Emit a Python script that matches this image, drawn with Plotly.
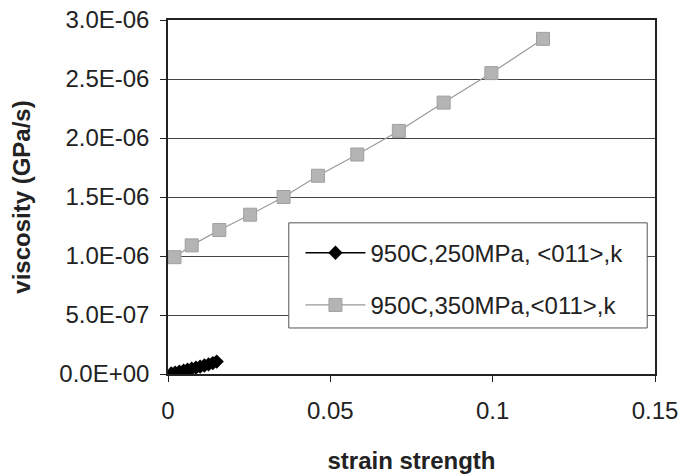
import plotly.graph_objects as go

# Series 1: 950C, 250MPa, <011>, k
x_250 = [0.0010, 0.0022, 0.0035, 0.0048, 0.0060, 0.0073, 0.0086, 0.0099, 0.0112, 0.0125, 0.0138, 0.0150]
y_250 = [0.005e-6, 0.012e-6, 0.020e-6, 0.028e-6, 0.036e-6, 0.045e-6, 0.054e-6, 0.063e-6, 0.072e-6, 0.082e-6, 0.093e-6, 0.105e-6]

# Series 2: 950C, 350MPa, <011>, k
x_350 = [0.0020, 0.0073, 0.0158, 0.0253, 0.0356, 0.0462, 0.0583, 0.0711, 0.0849, 0.0996, 0.1155]
y_350 = [0.99e-6, 1.09e-6, 1.22e-6, 1.35e-6, 1.50e-6, 1.68e-6, 1.86e-6, 2.06e-6, 2.30e-6, 2.55e-6, 2.84e-6]

name_250 = "950C,250MPa, <011>,k"
name_350 = "950C,350MPa,<011>,k"

x_ticks = [0, 0.05, 0.1, 0.15]
x_tick_labels = ["0", "0.05", "0.1", "0.15"]
y_ticks = [0, 0.5e-6, 1.0e-6, 1.5e-6, 2.0e-6, 2.5e-6, 3.0e-6]
y_tick_labels = ["0.0E+00", "5.0E-07", "1.0E-06", "1.5E-06", "2.0E-06", "2.5E-06", "3.0E-06"]

fig = go.Figure()
fig.add_trace(go.Scatter(
    x=x_250, y=y_250, mode="lines+markers", name=name_250, legendgroup="a",
    line=dict(color="black", width=1.5),
    marker=dict(symbol="diamond", size=11, color="black"),
))
fig.add_trace(go.Scatter(
    x=x_350, y=y_350, mode="lines+markers", name=name_350, legendgroup="b",
    line=dict(color="#9a9a9a", width=1.2),
    marker=dict(symbol="square", size=13, color="#b4b4b4",
                line=dict(color="#a0a0a0", width=1)),
))

# legend frame (white box covering grid lines, legend drawn on top)
fig.add_shape(type="rect", xref="paper", yref="paper",
              x0=0.248, x1=0.984, y0=0.13, y1=0.427,
              fillcolor="white", line=dict(color="#555", width=1), layer="above")

font_family = "Liberation Sans, Arial, sans-serif"
fig.update_layout(
    width=683, height=476,
    margin=dict(l=168, r=28, t=20, b=102),
    paper_bgcolor="white", plot_bgcolor="white",
    font=dict(family=font_family, size=24, color="#222"),
    showlegend=True,
    legend=dict(
        x=0.272, y=0.405, xanchor="left", yanchor="top",
        bgcolor="rgba(0,0,0,0)", borderwidth=0,
        font=dict(size=24, color="#222"),
        traceorder="grouped", tracegroupgap=18,
        itemwidth=60,
    ),
    xaxis=dict(
        range=[0, 0.15], tickvals=x_ticks, ticktext=x_tick_labels,
        showgrid=False, zeroline=False, automargin=False,
        showline=True, linecolor="#222", linewidth=1.5, mirror=True,
        ticks="outside", ticklen=6, tickcolor="#222", ticklabelstandoff=8,
        title=dict(text="<b>strain strength</b>", font=dict(size=24), standoff=30),
    ),
    yaxis=dict(
        range=[0, 3.0e-6], tickvals=y_ticks, ticktext=y_tick_labels,
        showgrid=True, gridcolor="#444", gridwidth=1, zeroline=False, automargin=False,
        showline=True, linecolor="#222", linewidth=1.5, mirror=True,
        ticks="outside", ticklen=6, tickcolor="#222", ticklabelstandoff=6,
        title=dict(text="<b>viscosity (GPa/s)</b>", font=dict(size=24), standoff=22),
    ),
)

fig.write_html("out.html")
